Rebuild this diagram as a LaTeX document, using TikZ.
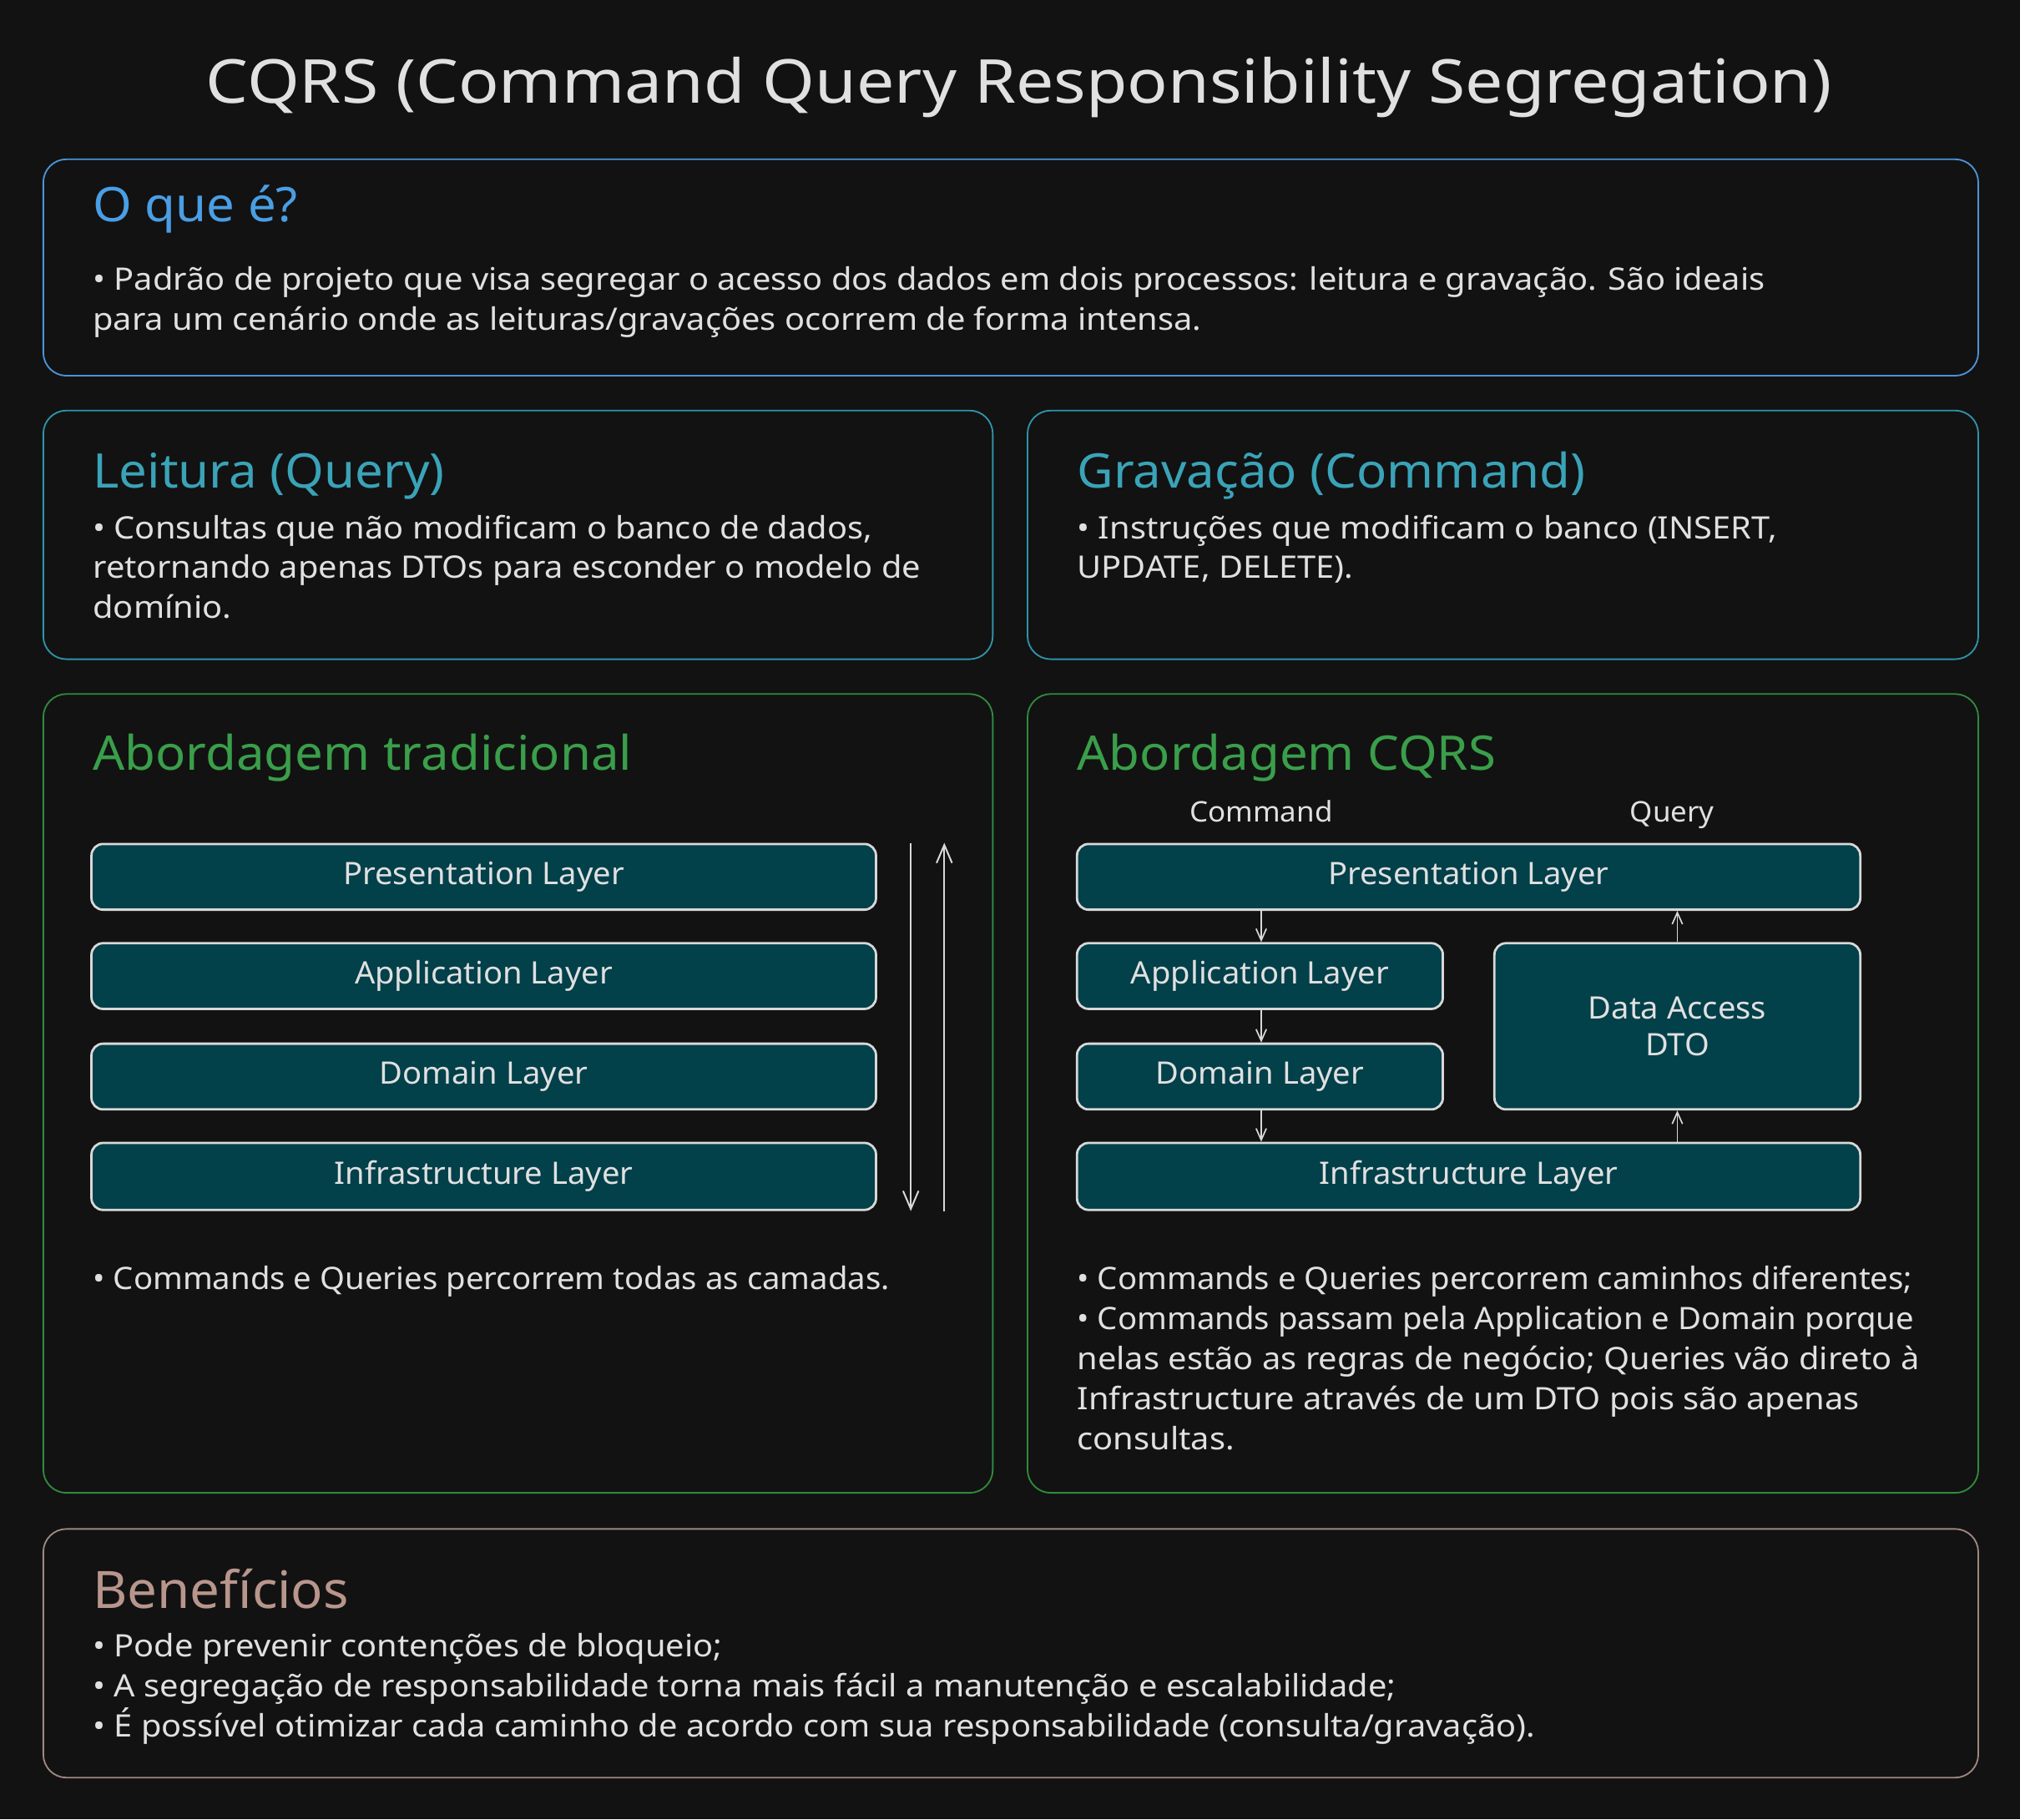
\documentclass[tikz,border=0pt]{standalone}
\usepackage{fontspec}
\setmainfont{Noto Sans}
\newfontfamily\bodyf{Noto Sans}[FakeStretch=1.075]
\newfontfamily\bodyn{Noto Sans}[FakeStretch=1.035]
\newfontfamily\titlef{Noto Sans}[FakeStretch=1.11]
\newfontfamily\layerf{Noto Sans}[FakeStretch=1.03]
\newfontfamily\headf{Noto Sans}[FakeStretch=1.05]
\usetikzlibrary{arrows.meta}
\definecolor{bgc}{HTML}{121212}
\definecolor{txt}{HTML}{E0E0E0}
\definecolor{cblue}{HTML}{4A9EE4}
\definecolor{bblue}{HTML}{4A94D8}
\definecolor{ccyan}{HTML}{3AA3B8}
\definecolor{bcyan}{HTML}{2F93A8}
\definecolor{cgreen}{HTML}{3A9E4A}
\definecolor{bgreen}{HTML}{2F8A3E}
\definecolor{cbrown}{HTML}{B8968C}
\definecolor{bbrown}{HTML}{9E8880}
\definecolor{teal}{HTML}{02404A}
\definecolor{lborder}{HTML}{D8D8D8}
\tikzset{
  panel/.style={draw, line width=1.2pt, rounded corners=18pt, anchor=north west, inner sep=0pt},
  layer/.style={draw=lborder, fill=teal, line width=1.8pt, rounded corners=9pt, inner sep=0pt,
     text=txt, font=\layerf\fontsize{24}{29}\selectfont},
  body/.style={anchor=base west, inner sep=0pt, text=txt, font=\bodyf\fontsize{24}{31}\selectfont},
  bodynarrow/.style={body, font=\bodyn\fontsize{24}{31}\selectfont},
  label/.style={anchor=base, inner sep=0pt, text=txt, font=\layerf\fontsize{22}{28}\selectfont},
  head/.style={anchor=base west, inner sep=0pt, font=\headf\fontsize{37}{46}\selectfont},
  arrlong/.style={draw=lborder, line width=1.3pt, -{Straight Barb[length=14pt,width=12pt]}},
  arr/.style={draw=lborder, line width=1.1pt, -{Straight Barb[length=9pt,width=8pt]}},
}
\begin{document}
\begin{tikzpicture}[x=1pt,y=-1pt]
\fill[bgc] (0,0) rectangle (1568,1412);
\useasboundingbox (0,0) rectangle (1568,1412);

% title
\node[anchor=base, inner sep=0pt, text=txt, font=\titlef\fontsize{47}{58}\selectfont] (title) at (791,80)
  {CQRS (Command Query Responsibility Segregation)};

% panels
\node[panel, draw=bblue, minimum width=1502pt, minimum height=168pt] (p1) at (33,123) {};
\node[panel, draw=bcyan, minimum width=737pt, minimum height=193pt] (p2) at (33,318) {};
\node[panel, draw=bcyan, minimum width=738pt, minimum height=193pt] (p3) at (797,318) {};
\node[panel, draw=bgreen, minimum width=737pt, minimum height=620pt] (p4) at (33,538) {};
\node[panel, draw=bgreen, minimum width=738pt, minimum height=620pt] (p5) at (797,538) {};
\node[panel, draw=bbrown, minimum width=1502pt, minimum height=193pt] (p6) at (33,1186) {};

% O que e
\node[head, text=cblue] (h1) at (72,172) {O que é?};
\node[body] (b1a) at (72,225) {• Padrão de projeto que visa segregar o acesso dos dados em dois processos: leitura e gravação. São ideais};
\node[body] (b1b) at (72,256) {para um cenário onde as leituras/gravações ocorrem de forma intensa.};

% Leitura
\node[head, text=ccyan] (h2) at (72,379) {Leitura (Query)};
\node[body] (b2a) at (72,418) {• Consultas que não modificam o banco de dados,};
\node[body] (b2b) at (72,449) {retornando apenas DTOs para esconder o modelo de};
\node[body] (b2c) at (72,480) {domínio.};

% Gravacao
\node[head, text=ccyan] (h3) at (836,379) {Gravação (Command)};
\node[body] (b3a) at (836,418) {• Instruções que modificam o banco (INSERT,};
\node[body] (b3b) at (836,449) {UPDATE, DELETE).};

% Abordagem tradicional
\node[head, text=cgreen] (h4) at (72,598) {Abordagem tradicional};
\node[layer, minimum width=609pt, minimum height=51pt] (tpres) at (375.5,680.5) {Presentation Layer};
\node[layer, minimum width=609pt, minimum height=51pt] (tapp) at (375.5,757.5) {Application Layer};
\node[layer, minimum width=609pt, minimum height=51pt] (tdom) at (375.5,835.5) {Domain Layer};
\node[layer, minimum width=609pt, minimum height=52pt] (tinf) at (375.5,913) {Infrastructure Layer};
\coordinate (tdown) at (707,0);
\coordinate (tup) at (733,0);
\draw[arrlong] (tpres.north -| tdown) -- (tinf.south -| tdown);
\draw[arrlong] (tinf.south -| tup) -- (tpres.north -| tup);
\node[bodynarrow] (b4) at (72,1001) {• Commands e Queries percorrem todas as camadas.};

% Abordagem CQRS
\node[head, text=cgreen] (h5) at (836,598) {Abordagem CQRS};
\node[label] (lcmd) at (979,638) {Command};
\node[label] (lqry) at (1298,638) {Query};
\node[layer, minimum width=608pt, minimum height=51pt] (cpres) at (1140,680.5) {Presentation Layer};
\node[layer, minimum width=284pt, minimum height=51pt] (capp) at (978,757.5) {Application Layer};
\node[layer, minimum width=284pt, minimum height=51pt] (cdom) at (978,835.5) {Domain Layer};
\node[layer, minimum width=284pt, minimum height=129pt, align=center] (cdto) at (1302,796.5) {Data Access\\DTO};
\node[layer, minimum width=608pt, minimum height=52pt] (cinf) at (1140,913) {Infrastructure Layer};
\coordinate (cmdx) at (979,0);
\coordinate (qryx) at (1302,0);
\draw[arr] (cpres.south -| cmdx) -- (capp.north -| cmdx);
\draw[arr] (capp.south -| cmdx) -- (cdom.north -| cmdx);
\draw[arr] (cdom.south -| cmdx) -- (cinf.north -| cmdx);
\draw[arr] (cinf.north -| qryx) -- (cdto.south -| qryx);
\draw[arr] (cdto.north -| qryx) -- (cpres.south -| qryx);
\node[bodynarrow] (b5a) at (836,1001) {• Commands e Queries percorrem caminhos diferentes;};
\node[bodynarrow] (b5b) at (836,1032) {• Commands passam pela Application e Domain porque};
\node[body] (b5c) at (836,1063) {nelas estão as regras de negócio; Queries vão direto à};
\node[body] (b5d) at (836,1094) {Infrastructure através de um DTO pois são apenas};
\node[body] (b5e) at (836,1125) {consultas.};

% Beneficios
\node[head, text=cbrown, font=\layerf\fontsize{40}{50}\selectfont] (h6) at (72,1248) {Benefícios};
\node[body] (b6a) at (72,1286) {• Pode prevenir contenções de bloqueio;};
\node[body] (b6b) at (72,1317) {• A segregação de responsabilidade torna mais fácil a manutenção e escalabilidade;};
\node[body] (b6c) at (72,1348) {• É possível otimizar cada caminho de acordo com sua responsabilidade (consulta/gravação).};
\end{tikzpicture}
\end{document}
